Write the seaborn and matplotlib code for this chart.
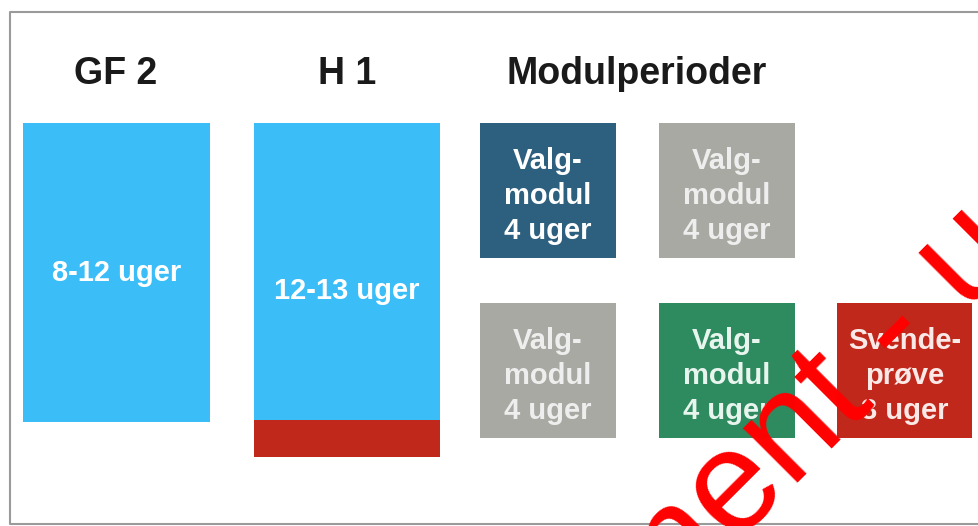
import matplotlib
matplotlib.use("Agg")
import matplotlib.pyplot as plt
import seaborn as sns
import numpy as np

# Education plan overview: GF 2, H 1 and module periods

# Column headings
column_titles = ["GF 2", "H 1", "Modulperioder"]
column_title_x = [116, 347, 637]

# Boxes (labels and fill colours)
box_labels = [
    "8-12 uger",
    "12-13 uger",
    "",
    "Valg-\nmodul\n4 uger",
    "Valg-\nmodul\n4 uger",
    "Valg-\nmodul\n4 uger",
    "Valg-\nmodul\n4 uger",
    "Svende-\nprøve\n3 uger",
]
box_colors = [
    "#3bbdf8",
    "#3bbdf8",
    "#c0281b",
    "#2d5f7e",
    "#a8a9a2",
    "#a8a9a2",
    "#2e8a5f",
    "#c0281b",
]
label_colors = ["white", "white", "white", "white", "#eeeeee", "#eeeeee", "#e8f5ee", "#fbe9e7"]

# Layout in pixels (left, top, width, height)
box_left = [23, 254, 254, 480, 659, 480, 659, 837]
box_top = [123, 123, 420, 123, 123, 303, 303, 303]
box_width = [187, 186, 186, 136, 136, 136, 136, 135]
box_height = [299, 297, 37, 135, 135, 135, 135, 135]
# text centre of each box (H 1 label is centred over the full box incl. red strip)
label_y = [273, 291, 0, 196, 196, 376, 376, 376]

W, H = 979, 526
sns.set_theme(style="white")
plt.rcParams["font.family"] = ["Liberation Sans", "DejaVu Sans"]

fig = plt.figure(figsize=(W / 100, H / 100), dpi=100)
ax = fig.add_axes([0, 0, 1, 1])
ax.set_xlim(0, W)
ax.set_ylim(H, 0)
ax.axis("off")

# frame
ax.plot([W, 10, 10, W], [12, 12, 524, 524], color="#9a9a9a", lw=1.5)

ax.bar(box_left, box_height, bottom=box_top, width=box_width,
       align="edge", color=box_colors, edgecolor="none")

for title, x in zip(column_titles, column_title_x):
    ax.text(x, 74, title, ha="center", va="center", fontsize=27,
            fontweight="bold", color="#1a1a1a")

for lab, l, w, y, c in zip(box_labels, box_left, box_width, label_y, label_colors):
    if lab:
        ax.text(l + w / 2, y, lab, ha="center", va="center", fontsize=21,
                fontweight="bold", color=c, linespacing=1.3)

# red watermark across the lower right corner
ax.text(649, 631, "ment - ud", rotation=45, rotation_mode="anchor",
        ha="left", va="baseline", fontsize=104, color="#ff0000")

fig.savefig("out.png", dpi=100)
